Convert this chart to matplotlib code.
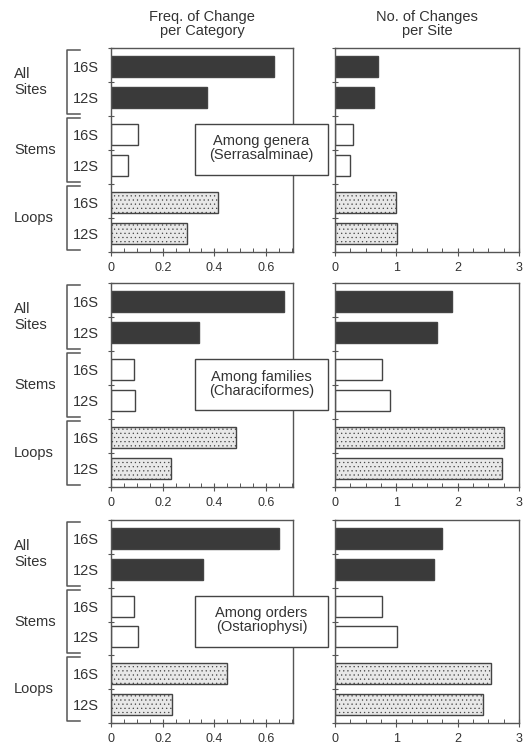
import matplotlib
matplotlib.use("Agg")
import matplotlib.pyplot as plt
import matplotlib.transforms as mtransforms
from matplotlib.patches import Rectangle
from matplotlib.ticker import MultipleLocator
import numpy as np

plt.rcParams['font.family'] = ['Liberation Sans', 'DejaVu Sans']

# data (bars top->bottom: All 16S, All 12S, Stems 16S, Stems 12S, Loops 16S, Loops 12S)
CATEGORIES = ['All\nSites', 'Stems', 'Loops']
GENES = ['16S', '12S']
COMPARISONS = ['Among genera\n(Serrasalminae)',
               'Among families\n(Characiformes)',
               'Among orders\n(Ostariophysi)']
COL_TITLES = ['Freq. of Change\nper Category', 'No. of Changes\nper Site']

freq_genera = [0.632, 0.373, 0.105, 0.066, 0.413, 0.294]
freq_families = [0.670, 0.339, 0.089, 0.092, 0.484, 0.231]
freq_orders = [0.650, 0.357, 0.089, 0.106, 0.450, 0.236]

site_genera = [0.70, 0.64, 0.30, 0.25, 1.00, 1.01]
site_families = [1.90, 1.66, 0.77, 0.89, 2.76, 2.73]
site_orders = [1.74, 1.62, 0.76, 1.01, 2.55, 2.41]

FREQ = [freq_genera, freq_families, freq_orders]
SITE = [site_genera, site_families, site_orders]

W, H = 526, 748
fig = plt.figure(figsize=(W / 100, H / 100), dpi=100)
fig.patch.set_facecolor('white')

ink = '#333333'
face = ['#3a3a3a', '#3a3a3a', 'white', 'white', '#e8e8e8', '#e8e8e8']
hatch = [None, None, None, None, '....', '....']

# slot centres, pulled slightly together within each pair
ypos = np.array([0.55, 1.45, 2.55, 3.45, 4.55, 5.45])

rows_px = [(48, 252), (283, 487), (520, 723)]
cols_px = [(111, 293), (335, 519)]
xlims = [0.704, 3.0]
majors = [0.2, 1.0]
minors = [0.05, 0.25]

plt.rcParams['hatch.color'] = '#c4c4c4'
plt.rcParams['hatch.linewidth'] = 0.4

for r, (top, bot) in enumerate(rows_px):
    for c, (x0, x1) in enumerate(cols_px):
        ax = fig.add_axes([x0 / W, 1 - bot / H, (x1 - x0) / W, (bot - top) / H])
        vals = FREQ[r] if c == 0 else SITE[r]
        for i, v in enumerate(vals):
            ax.barh(ypos[i], v, height=0.62, color=face[i], edgecolor='#444444',
                    linewidth=1.0, hatch=hatch[i], zorder=2)
        ax.set_ylim(6, 0)
        ax.set_xlim(0, xlims[c])
        ax.xaxis.set_major_locator(MultipleLocator(majors[c]))
        ax.xaxis.set_minor_locator(MultipleLocator(minors[c]))
        ax.set_yticks(ypos)
        ax.set_yticks(np.arange(0, 7), minor=True)
        if c == 0:
            ax.set_yticklabels(GENES * 3, fontsize=10.5, color=ink)
        else:
            ax.set_yticklabels([])
        ax.tick_params(axis='y', which='major', length=0, pad=9)
        ax.tick_params(axis='y', which='minor', direction='inout', length=5,
                       width=0.8, color='#555555')
        ax.tick_params(axis='x', which='major', direction='inout', length=6,
                       width=0.8, color='#555555', labelsize=9, labelcolor=ink, pad=4)
        ax.tick_params(axis='x', which='minor', direction='in', length=3,
                       width=0.7, color='#555555')
        for sp in ax.spines.values():
            sp.set_color('#555555')
            sp.set_linewidth(1.0)

        if c == 0:
            ax.xaxis.set_major_formatter(plt.FuncFormatter(
                lambda v, p: '0' if abs(v) < 1e-9 else ('%.1f' % v)))
            trans = mtransforms.blended_transform_factory(ax.transAxes, ax.transData)
            bx0 = (67 - x0) / (x1 - x0)
            bx1 = (80 - x0) / (x1 - x0)
            for g, name in enumerate(CATEGORIES):
                ya = 2 * g + 0.06
                yb = 2 * g + 1.94
                ax.plot([bx1, bx0, bx0, bx1], [ya, ya, yb, yb], color='#555555',
                        lw=1.1, transform=trans, clip_on=False)
                ax.text((14 - x0) / (x1 - x0), 2 * g + 1, name, transform=trans,
                        ha='left', va='center', fontsize=10.5, color=ink,
                        linespacing=1.15)
        else:
            ax.xaxis.set_major_formatter(plt.FuncFormatter(lambda v, p: '%d' % v))

        if r == 0:
            ax.set_title(COL_TITLES[c], fontsize=10.5, color=ink, pad=9,
                         linespacing=1.0)

    # annotation box between the two columns (fixed size)
    box_top = top + 76
    box_h = 51
    fig.patches.append(Rectangle((195 / W, 1 - (box_top + box_h) / H),
                                 133 / W, box_h / H, transform=fig.transFigure,
                                 facecolor='white', edgecolor='#444444',
                                 linewidth=1.0, zorder=9))
    fig.text(261.5 / W, 1 - (box_top + box_h / 2 - 1) / H, COMPARISONS[r],
             ha='center', va='center', fontsize=10.5, color=ink, linespacing=1.0,
             zorder=10)

fig.savefig('out.png', dpi=100, facecolor='white')
